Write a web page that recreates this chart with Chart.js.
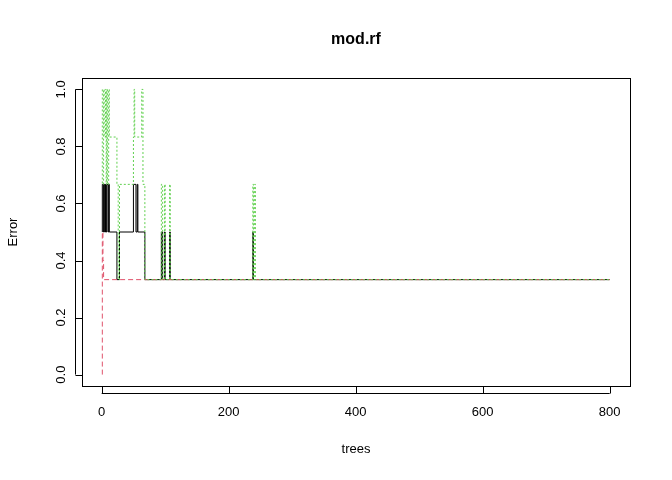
<!DOCTYPE html>
<html><head><script src="https://cdn.jsdelivr.net/npm/chart.js"></script>
<style>body{margin:0;background:#fff}</style></head>
<body><canvas id="c" width="672" height="480" style="width:672px;height:480px"></canvas>
<script>
const oobTrees=[1,3,4,5,6,7,8,10,11,12,24,28,50,54,56,57,68,94,96,99,100,107,108,238,239,244,800];
const oobErr=[0.5,0.667,0.5,0.667,0.5,0.667,0.5,0.667,0.5,0.667,0.5,0.333,0.5,0.667,0.5,0.667,0.5,0.333,0.5,0.333,0.5,0.333,0.5,0.333,0.5,0.333,0.333];
const c1Trees=[1,2,3,4,800];
const c1Err=[0,0.5,0.4,0.333,0.333];
const c2Trees=[1,3,4,6,7,8,9,11,12,24,26,28,50,51,52,63,65,68,94,96,99,100,107,108,238,239,241,242,244,800];
const c2Err=[1,0.667,1,0.833,1,0.667,1,0.667,1,0.833,0.667,0.333,0.667,0.833,1,0.833,1,0.667,0.333,0.667,0.333,0.667,0.333,0.667,0.333,0.667,0.333,0.667,0.333,0.333];
const xTicks=[0,200,400,600,800];
const yTicks=[0,0.2,0.4,0.6,0.8,1.0];
const pts=(t,v)=>t.map((x,i)=>({x:x,y:v[i]}));
const F='"Liberation Sans", Arial, sans-serif';
const axes={id:'axes',afterDraw(ch){
 const g=ch.ctx,a=ch.chartArea,xs=ch.scales.x,ys=ch.scales.y;
 g.save();g.strokeStyle='#000';g.lineWidth=1;g.fillStyle='#000';
 g.strokeRect(Math.round(a.left)+0.5,Math.round(a.top)+0.5,Math.round(a.right-a.left),Math.round(a.bottom-a.top));
 g.font='13px '+F;g.textAlign='center';g.textBaseline='top';
 const by=Math.round(a.bottom)+0.5;
 g.beginPath();g.moveTo(xs.getPixelForValue(0),by+7);g.lineTo(xs.getPixelForValue(800),by+7);
 xTicks.forEach(v=>{const p=Math.round(xs.getPixelForValue(v))+0.5;g.moveTo(p,by);g.lineTo(p,by+7);});
 const lx=Math.round(a.left)+0.5-7;
 g.moveTo(lx,ys.getPixelForValue(0));g.lineTo(lx,ys.getPixelForValue(1));
 yTicks.forEach(v=>{const p=Math.round(ys.getPixelForValue(v))+0.5;g.moveTo(lx+7,p);g.lineTo(lx,p);});
 g.stroke();
 xTicks.forEach(v=>g.fillText(String(v),xs.getPixelForValue(v),by+19));
 yTicks.forEach(v=>{g.save();g.translate(lx-12,ys.getPixelForValue(v));g.rotate(-Math.PI/2);g.textBaseline='bottom';g.fillText(v.toFixed(1),0,4);g.restore();});
 g.fillText('trees',(a.left+a.right)/2,443);
 g.save();g.translate(20,(a.top+a.bottom)/2);g.rotate(-Math.PI/2);g.textBaseline='bottom';g.fillText('Error',0,0);g.restore();
 g.font='bold 16px '+F;g.fillText('mod.rf',(a.left+a.right)/2,32);
 g.restore();}};
const ds=(t,v,col,dash)=>({data:pts(t,v),borderColor:col,borderWidth:1,borderDash:dash,pointRadius:0,stepped:'after',fill:false});
new Chart(document.getElementById('c'),{type:'line',
 data:{datasets:[ds(c2Trees,c2Err,'#61D04F',[2,2]),ds(c1Trees,c1Err,'#DF536B',[5,3]),ds(oobTrees,oobErr,'#000',[])]},
 options:{responsive:false,devicePixelRatio:1,animation:false,layout:{padding:{left:82,right:42,top:78,bottom:94}},
  plugins:{legend:{display:false},tooltip:{enabled:false}},
  scales:{x:{type:'linear',min:-31,max:832,display:false},y:{min:-0.04,max:1.04,display:false}}},
 plugins:[axes]});
</script></body></html>
